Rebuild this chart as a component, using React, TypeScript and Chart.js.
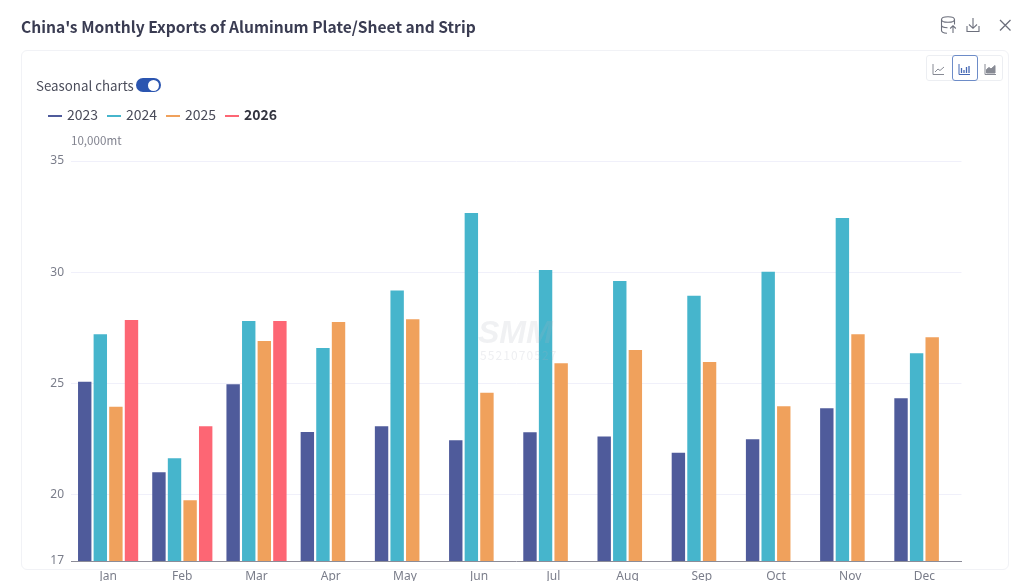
import React, { useEffect, useRef } from "react";
import { Chart, registerables } from "chart.js";

Chart.register(...registerables);

const months = ["Jan", "Feb", "Mar", "Apr", "May", "Jun", "Jul", "Aug", "Sep", "Oct", "Nov", "Dec"];
const values2023 = [25.07, 20.99, 24.95, 22.8, 23.06, 22.43, 22.79, 22.6, 21.87, 22.48, 23.87, 24.32];
const values2024 = [27.2, 21.62, 27.8, 26.58, 29.17, 32.66, 30.09, 29.6, 28.94, 30.02, 32.43, 26.35];
const values2025 = [23.94, 19.73, 26.9, 27.75, 27.88, 24.57, 25.9, 26.49, 25.95, 23.96, 27.2, 27.07];
const values2026 = [27.84, 23.06, 27.8, null, null, null, null, null, null, null, null, null];
const yTicks = [17, 20, 25, 30, 35];
const seriesNames = ["2023", "2024", "2025", "2026"];
const seriesColors = ["#4f5b9b", "#46b5cc", "#f0a15c", "#fd6674"];
const seriesValues = [values2023, values2024, values2025, values2026];

const FONT = '"Noto Sans CJK SC", "Noto Sans", sans-serif';
const TICK_FONT = '"Noto Sans", sans-serif';

const abs = (left: number, top: number, extra: React.CSSProperties = {}): React.CSSProperties => ({
  position: "absolute",
  left,
  top,
  whiteSpace: "nowrap",
  ...extra,
});

export default function App() {
  const ref = useRef<HTMLCanvasElement>(null);

  useEffect(() => {
    const chart = new Chart(ref.current!, {
      type: "bar",
      data: {
        labels: months,
        datasets: seriesNames.map((name, i) => ({
          label: name,
          data: seriesValues[i],
          backgroundColor: seriesColors[i],
          categoryPercentage: 0.84,
          barPercentage: 0.86,
        })),
      },
      options: {
        responsive: false,
        animation: false,
        devicePixelRatio: 1,
        layout: { padding: { left: 0, right: 62.5, top: 161, bottom: 0 } },
        plugins: { legend: { display: false }, title: { display: false }, tooltip: { enabled: false } },
        scales: {
          x: {
            grid: { display: false },
            border: { color: "#8c8c98", width: 1 },
            ticks: { color: "#7a7d8a", font: { family: TICK_FONT, size: 12 }, padding: 0, maxRotation: 0 },
            afterFit: (s: any) => { s.height = 20; },
          },
          y: {
            min: 17,
            max: 35,
            afterBuildTicks: (s: any) => { s.ticks = yTicks.map((v) => ({ value: v })); },
            grid: { color: "#f0f0fa", drawTicks: false },
            border: { display: false },
            ticks: { color: "#7a7d8a", font: { family: TICK_FONT, size: 12 }, padding: 7 },
            afterFit: (s: any) => { s.width = 71; },
          },
        },
      },
    });
    return () => chart.destroy();
  }, []);

  return (
    <div style={{ position: "fixed", left: 0, top: 0, width: 1024, height: 581, overflow: "hidden", background: "#fff", fontFamily: FONT }}>
      <div style={abs(21, 50, { width: 986, height: 518, border: "1px solid #f1f2f6", borderRadius: 6, boxSizing: "content-box" })} />
      <canvas ref={ref} width={1024} height={581} style={{ position: "absolute", left: 0, top: 0, display: "block" }} />

      <div style={abs(21, 15, { fontSize: 15.6, lineHeight: "22px", fontWeight: 700, color: "#3a3c52" })}>
        China's Monthly Exports of Aluminum Plate/Sheet and Strip
      </div>

      <svg width={1024} height={100} style={{ position: "absolute", left: 0, top: 0 }} fill="none" stroke="#6c6f7c" strokeWidth={1.1}>
        <ellipse cx="948" cy="19.5" rx="6.5" ry="2.8" />
        <path d="M941.5 19.5v11c0 1.6 2.5 2.6 5.5 2.8M941.5 25c0 1.6 2.8 2.7 6 2.8M954.5 19.5v5M953 33v-7M950.2 28.5l2.8-2.8 2.8 2.8" />
        <path d="M973 18v10M969 24.5l4 3.8 4-3.8M967 26v5.5h12V26" />
        <path d="M1000 20l10.5 10.5M1010.5 20L1000 30.5" strokeWidth={1.3} />
      </svg>

      <div style={abs(926, 55, { width: 77, height: 26, border: "1px solid #eceef2", borderRadius: 3, boxSizing: "border-box" })} />
      <div style={abs(952, 55, { width: 26, height: 26, border: "1px solid #6d8cc8", borderRadius: 3, boxSizing: "border-box" })} />
      <svg width={1024} height={100} style={{ position: "absolute", left: 0, top: 0 }} fill="none" strokeWidth={1}>
        <g stroke="#878a94">
          <path d="M933 64v10.500h11" />
          <path d="M935 72l3-3 2 1.500 4-3.500" />
          <path d="M985 64v10.500h11" />
          <path d="M986.500 73v-3.500l2.500-2 2 1.500 4-3.500V73z" fill="#878a94" />
        </g>
        <g stroke="#4568b4">
          <path d="M959 64v10.500h11" />
          <path d="M961.500 73v-5M964 73v-3M966.500 73v-6M969 73v-7" strokeWidth={1.300} />
        </g>
      </svg>

      <div style={abs(36, 75.5, { fontSize: 13.3, lineHeight: "19px", color: "#4a4c5a" })}>Seasonal charts</div>
      <div style={abs(136, 78, { width: 25, height: 14, borderRadius: 7, background: "#2b55b0" })} />
      <div style={abs(148, 79.5, { width: 11, height: 11, borderRadius: 6, background: "#fff" })} />

      {seriesNames.map((name, i) => (
        <React.Fragment key={name}>
          <div style={abs(48 + i * 59, 115, { width: 14, height: 2, background: seriesColors[i] })} />
          <div
            style={abs(67 + i * 59, 105, {
              fontSize: 14,
              lineHeight: "18px",
              color: i === 3 ? "#33343f" : "#4a4c5a",
              fontWeight: i === 3 ? 700 : 400,
            })}
          >
            {name}
          </div>
        </React.Fragment>
      ))}

      <div style={abs(71, 131.5, { fontSize: 11.6, lineHeight: "16px", color: "#80828e" })}>10,000mt</div>

      <div style={abs(478, 314, { fontFamily: '"Liberation Sans", sans-serif', fontSize: 32, lineHeight: "36px", fontWeight: 700, fontStyle: "italic", color: "rgba(170,175,190,0.18)" })}>SMM</div>
      <div style={abs(480, 347, { fontSize: 12, lineHeight: "16px", letterSpacing: 1.1, color: "rgba(170,175,190,0.2)" })}>5521070527</div>
    </div>
  );
}
